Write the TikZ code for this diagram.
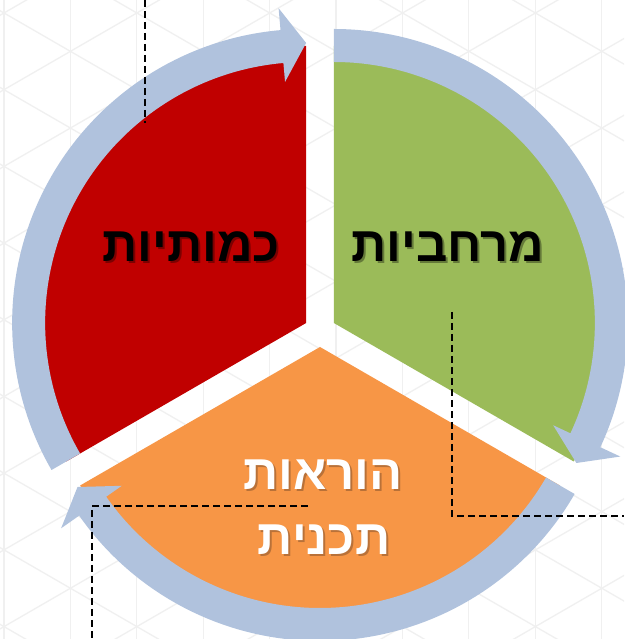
\documentclass[tikz,border=0pt]{standalone}
\usepackage{fontspec}
\newfontfamily\heb[Script=Hebrew]{Liberation Sans}
\TeXXeTstate=1
\definecolor{redsec}{RGB}{192,0,0}
\definecolor{greensec}{RGB}{155,187,89}
\definecolor{orangesec}{RGB}{247,150,70}
\definecolor{ringblue}{RGB}{176,194,221}
\definecolor{gridgray}{RGB}{240,240,240}
\definecolor{warmshadow}{RGB}{110,70,40}
\tikzset{
  gridline/.style={draw=gridgray, line width=1.3pt},
  ring/.style={fill=ringblue},
  guide/.style={draw=black, line width=2.2pt, dash pattern=on 7pt off 4pt},
  lbl/.style={font=\heb\bfseries\fontsize{49}{56}\selectfont, inner sep=0pt, anchor=base},
  darklabel/.style={lbl, text=black},
  darkshadow/.style={lbl, text=black, opacity=0.35},
  lightlabel/.style={lbl, text=white},
  lightshadow/.style={lbl, text=warmshadow, opacity=0.45},
}
\newcommand\sectorfill[4]{%
  \fill[#4] (#1,#2) -- ++(#3:277) arc[start angle=#3, end angle={#3+120}, radius=277] -- cycle;}
\newcommand\ringarrow[4]{%
  \begin{scope}[shift={(#1,#2)}]
  \fill[ring] (#3:294) arc[start angle=#3, end angle={#4+5}, radius=294]
    -- ({#4+5}:316) -- (#4:280) -- ({#4+5}:242) -- ({#4+5}:261)
    arc[start angle={#4+5}, end angle=#3, radius=261] -- cycle;
  \end{scope}}
\begin{document}
\begin{tikzpicture}[x=1pt,y=1pt]
\useasboundingbox (0,0) rectangle (624,639);
\fill[white] (0,0) rectangle (624,639);
\begin{scope}
\clip (0,0) rectangle (624,639);
\foreach \i in {0,...,9} {
  \draw[gridline] ({4+66.4*\i},0) -- ({4+66.4*\i},639);
}
\foreach \k in {-7,...,15} {
  \draw[gridline] (-10,{626+0.57735*14-76.7*\k}) -- (640,{626-0.57735*636-76.7*\k});
  \draw[gridline] (-10,{626-0.57735*14-76.7*\k}) -- (640,{626+0.57735*636-76.7*\k});
}
\end{scope}
% sectors
\sectorfill{306.14}{316}{90}{redsec}
\sectorfill{333.86}{316}{-30}{greensec}
\sectorfill{320}{292}{210}{orangesec}
% ring arrows
\ringarrow{306.14}{316}{210}{90}
\ringarrow{333.86}{316}{90}{-30}
\ringarrow{320}{292}{-30}{-150}
% labels
\node[darkshadow] at (193,375) {\beginR כמותיות\endR};
\node[darklabel] (kamut) at (191,377) {\beginR כמותיות\endR};
\node[darkshadow] at (450,375) {\beginR מרחביות\endR};
\node[darklabel] (merhav) at (448,377) {\beginR מרחביות\endR};
\node[lightshadow] at (325,147) {\beginR הוראות\endR};
\node[lightlabel] (horaot) at (323,149) {\beginR הוראות\endR};
\node[lightshadow] at (326,82) {\beginR תכנית\endR};
\node[lightlabel] (tochnit) at (324,84) {\beginR תכנית\endR};
% dashed guides
\coordinate (g1a) at (145,639);
\coordinate (g1b) at (145,516);
\coordinate (g2a) at (452,327);
\coordinate (g2b) at (452,123);
\coordinate (g2c) at (624,123);
\coordinate (g3a) at (308,133);
\coordinate (g3b) at (92,133);
\coordinate (g3c) at (92,0);
\draw[guide] (g1a) -- (g1b);
\draw[guide] (g2a) -- (g2b) -- (g2c);
\draw[guide] (g3a) -- (g3b) -- (g3c);
\end{tikzpicture}
\end{document}
